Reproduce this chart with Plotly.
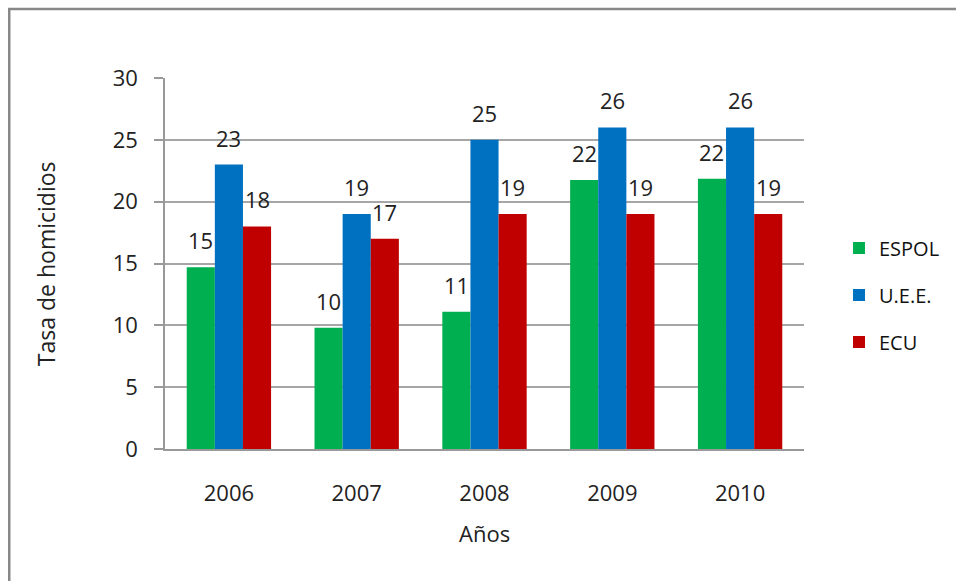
import plotly.graph_objects as go

years = ["2006", "2007", "2008", "2009", "2010"]
espol = [14.7, 9.8, 11.1, 21.75, 21.85]
uee = [23, 19, 25, 26, 26]
ecu = [18, 17, 19, 19, 19]
series_names = ["ESPOL", "U.E.E.", "ECU"]
series_colors = ["#00B050", "#0070C0", "#C00000"]
y_ticks = [0, 5, 10, 15, 20, 25, 30]

FONT = "Open Sans"
W, H = 956, 581
ML, MR, MT, MB = 165, 151, 78, 132
plot_w = W - ML - MR
plot_h = H - MT - MB
bargap = 0.34
bar_px = plot_w / len(years) * (1 - bargap) / 3

fig = go.Figure()
all_series = [espol, uee, ecu]
for i, (name, vals, col) in enumerate(zip(series_names, all_series, series_colors)):
    fig.add_trace(go.Bar(
        x=years, y=vals, name=name, legendgroup=name,
        marker=dict(color=col, line=dict(width=0)),
    ))

annotations = []
for i, vals in enumerate(all_series):
    for j, v in enumerate(vals):
        annotations.append(dict(
            x=j, y=v, xref="x", yref="y", text=str(round(v)),
            showarrow=False, xanchor="center", yanchor="bottom",
            xshift=(i - 1) * bar_px, yshift=10,
            font=dict(family=FONT, size=22, color="#222222"),
        ))

annotations.append(dict(
    x=(46 - ML) / plot_w, y=(MT + plot_h - 264) / plot_h, xref="paper", yref="paper",
    text="Tasa de homicidios", textangle=-90, showarrow=False,
    xanchor="center", yanchor="middle",
    font=dict(family=FONT, size=23, color="#222222"),
))
annotations.append(dict(
    x=0.5, y=(MT + plot_h - 533) / plot_h, xref="paper", yref="paper",
    text="Años", showarrow=False, xanchor="center", yanchor="middle",
    font=dict(family=FONT, size=22, color="#222222"),
))

frame = dict(
    type="rect", xref="paper", yref="paper",
    x0=(9 - ML) / plot_w, x1=(962 - ML) / plot_w,
    y0=(MT + plot_h - 590) / plot_h, y1=(MT + plot_h - 9) / plot_h,
    line=dict(color="#888888", width=2.5), fillcolor="rgba(0,0,0,0)",
    layer="below",
)

fig.update_layout(
    width=W, height=H,
    margin=dict(l=ML, r=MR, t=MT, b=MB),
    paper_bgcolor="white", plot_bgcolor="white",
    barmode="group", bargap=bargap, bargroupgap=0,
    font=dict(family=FONT, size=22, color="#222222"),
    showlegend=True,
    legend=dict(
        x=(839 - ML) / plot_w, y=(MT + plot_h - 295) / plot_h,
        xanchor="left", yanchor="middle",
        font=dict(family=FONT, size=20, color="#111111"),
        tracegroupgap=18, traceorder="grouped",
        bgcolor="rgba(0,0,0,0)",
    ),
    xaxis=dict(
        type="category", range=[-0.5, len(years) - 0.5], autorange=False,
        showline=True, linecolor="#999999", linewidth=1.5,
        ticks="", showgrid=False, ticklabelstandoff=24,
        tickfont=dict(family=FONT, size=22, color="#222222"),
    ),
    yaxis=dict(
        range=[0, 30], autorange=False,
        tickvals=y_ticks, ticktext=[str(t) for t in y_ticks],
        showline=True, linecolor="#999999", linewidth=1.5,
        ticks="outside", ticklen=9, tickcolor="#999999", tickwidth=1.5,
        ticklabelstandoff=12,
        showgrid=True, gridcolor="#a6a6a6", gridwidth=1.5,
        zeroline=False,
        tickfont=dict(family=FONT, size=22, color="#222222"),
    ),
    annotations=annotations,
    shapes=[frame],
)

fig.write_html("out.html", config={"displayModeBar": False},
               post_script="document.body.style.margin='0px';")
